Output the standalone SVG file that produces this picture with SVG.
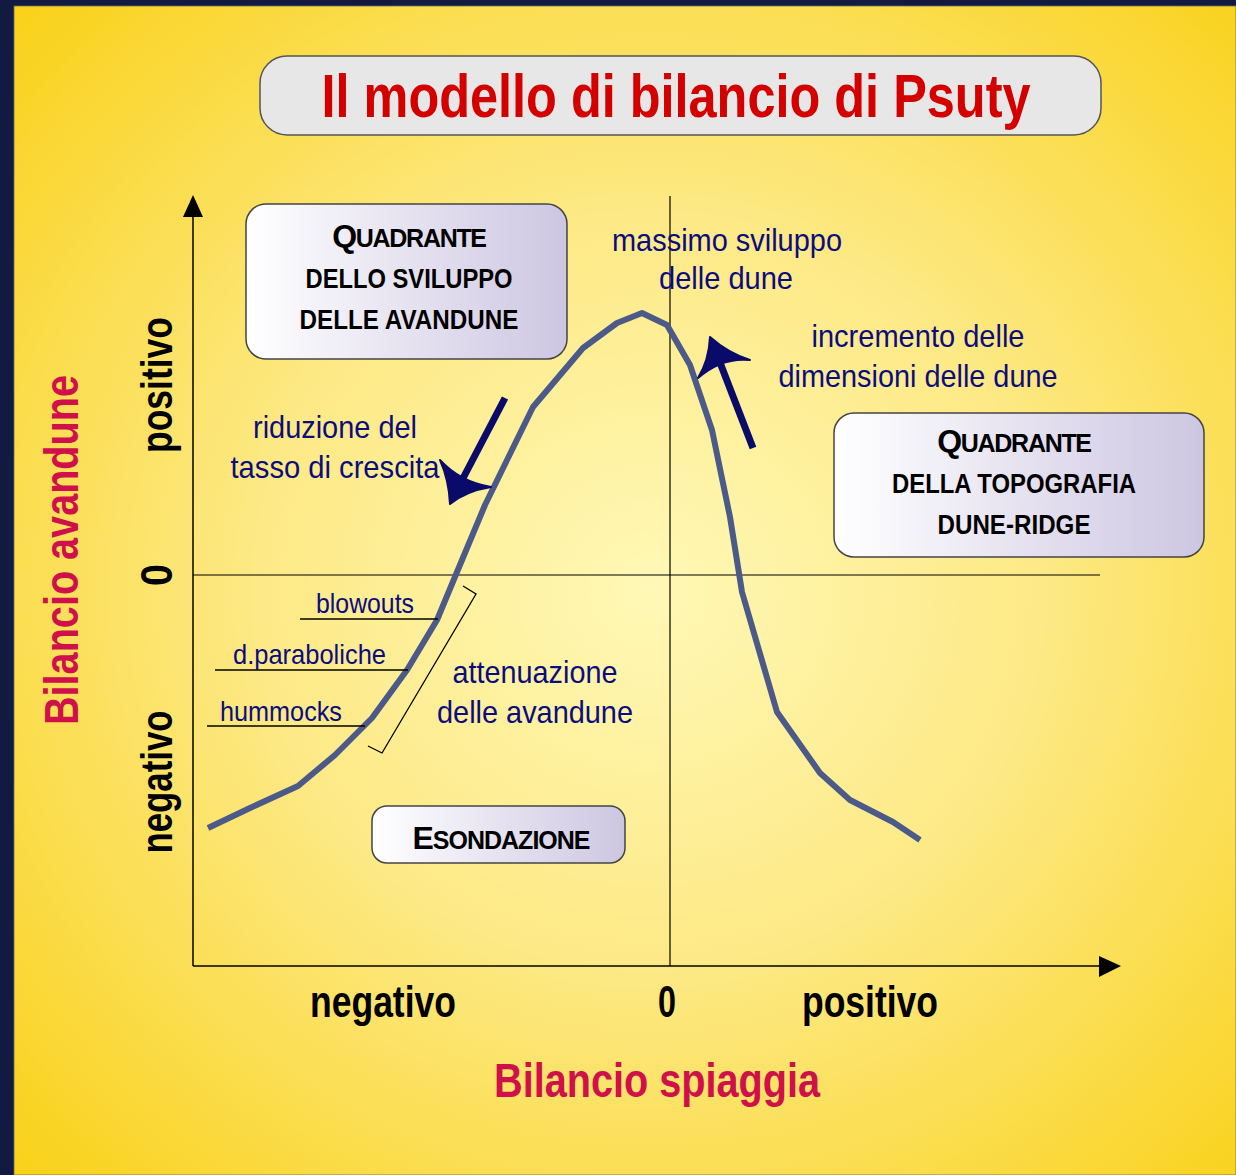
<svg xmlns="http://www.w3.org/2000/svg" width="1236" height="1175" viewBox="0 0 1236 1175">
<defs>
<radialGradient id="bg" cx="0.52" cy="0.5" r="0.72">
<stop offset="0" stop-color="#fff8b6"/>
<stop offset="0.45" stop-color="#fde985"/>
<stop offset="1" stop-color="#f9d118"/>
</radialGradient>
<linearGradient id="boxg" x1="0" y1="0" x2="1" y2="0">
<stop offset="0" stop-color="#ffffff"/>
<stop offset="1" stop-color="#cdc6e2"/>
</linearGradient>
</defs>
<style>
.nar{font-family:"Liberation Sans Narrow","Liberation Sans",Arial,sans-serif}
.blue{fill:#0c0c80;font-size:32px}
.lbl{fill:#0c0c80;font-size:28px}
.box{fill:url(#boxg);stroke:#444;stroke-width:1.5}
.bt{fill:#000;font-size:27px;font-weight:bold}
.sc{fill:#000;font-size:25px;font-weight:bold;letter-spacing:-1.3px}
.ax{fill:#000;font-size:44px;font-weight:bold}
.red{fill:#d0104a;font-size:48px;font-weight:bold}
.thin{stroke:#000;stroke-width:1.3;fill:none}
</style>
<rect x="0" y="0" width="1236" height="1175" fill="#121a42"/>
<rect x="14" y="6" width="1222" height="1169" fill="url(#bg)" stroke="#6a6a5a" stroke-width="0.8"/>

<g id="title">
<rect x="260" y="56" width="841" height="79" rx="27" fill="#e7e7e7" stroke="#555" stroke-width="1.5"/>
<text class="nar" x="676" y="117" text-anchor="middle" font-size="62" font-weight="bold" fill="#d40000" textLength="709" lengthAdjust="spacingAndGlyphs">Il modello di bilancio di Psuty</text>
</g>

<g id="axes">
<line x1="193" y1="966" x2="193" y2="215" stroke="#000" stroke-width="1.5"/>
<polygon points="193,195 183,217 203,217" fill="#000"/>
<line x1="193" y1="966" x2="1100" y2="966" stroke="#000" stroke-width="1.5"/>
<polygon points="1121,966 1099,956 1099,977" fill="#000"/>
<line x1="193" y1="575" x2="1100" y2="575" stroke="#000" stroke-width="1.2"/>
<line x1="670" y1="196" x2="670" y2="966" stroke="#000" stroke-width="1.2"/>
</g>

<g id="axis-labels">
<text class="nar red" transform="translate(78,550) rotate(-90)" text-anchor="middle" textLength="350" lengthAdjust="spacingAndGlyphs">Bilancio avandune</text>
<text class="nar ax" transform="translate(172,385) rotate(-90)" text-anchor="middle" textLength="136" lengthAdjust="spacingAndGlyphs">positivo</text>
<text class="nar ax" transform="translate(172,575) rotate(-90)" text-anchor="middle" textLength="22" lengthAdjust="spacingAndGlyphs">0</text>
<text class="nar ax" transform="translate(172,782) rotate(-90)" text-anchor="middle" textLength="143" lengthAdjust="spacingAndGlyphs">negativo</text>
<text class="nar ax" x="383" y="1017" text-anchor="middle" textLength="146" lengthAdjust="spacingAndGlyphs">negativo</text>
<text class="nar ax" x="667" y="1017" text-anchor="middle" textLength="18" lengthAdjust="spacingAndGlyphs">0</text>
<text class="nar ax" x="870" y="1017" text-anchor="middle" textLength="136" lengthAdjust="spacingAndGlyphs">positivo</text>
<text class="nar red" x="657" y="1097" text-anchor="middle" textLength="326" lengthAdjust="spacingAndGlyphs">Bilancio spiaggia</text>
</g>

<g id="connectors">
<polyline id="curve" points="208,828 250,808 298,786 335,755 372,718 407,670 437,620 457,572 485,505 533,407 583,348 617,323 642,313 667,325 690,365 712,430 730,517 742,592 777,712 820,773 850,800 893,822 920,840" fill="none" stroke="#4c5a8a" stroke-width="6" stroke-linejoin="round"/>
<line x1="300" y1="619" x2="438" y2="619" class="thin"/>
<line x1="215" y1="670" x2="408" y2="670" class="thin"/>
<line x1="207" y1="726" x2="365" y2="726" class="thin"/>
<polyline points="463,586 476,594 382,753 368,746" class="thin"/>
<line x1="505" y1="398" x2="460" y2="484" stroke="#0a0a6a" stroke-width="7"/>
<path d="M450,504 Q449,480 440,460 Q460,482 491,487 Q466,491 450,504 Z" fill="#0a0a6a" stroke="#0a0a6a" stroke-width="2" stroke-linejoin="round"/>
<line x1="753" y1="448" x2="719" y2="360" stroke="#0a0a6a" stroke-width="7"/>
<path d="M710,337 Q728,353 750,360 Q722,357 698,378 Q709,360 710,337 Z" fill="#0a0a6a" stroke="#0a0a6a" stroke-width="2" stroke-linejoin="round"/>
</g>

<g id="q1">
<rect class="box" x="246" y="204" width="321" height="155" rx="20"/>
<text class="nar sc" x="409" y="247" text-anchor="middle"><tspan font-size="32">Q</tspan>UADRANTE</text>
<text class="nar bt" x="409" y="288" text-anchor="middle" textLength="207" lengthAdjust="spacingAndGlyphs">DELLO SVILUPPO</text>
<text class="nar bt" x="409" y="329" text-anchor="middle" textLength="219" lengthAdjust="spacingAndGlyphs">DELLE AVANDUNE</text>
</g>

<g id="q2">
<rect class="box" x="834" y="413" width="370" height="144" rx="20"/>
<text class="nar sc" x="1014" y="452" text-anchor="middle"><tspan font-size="32">Q</tspan>UADRANTE</text>
<text class="nar bt" x="1014" y="493" text-anchor="middle" textLength="244" lengthAdjust="spacingAndGlyphs">DELLA TOPOGRAFIA</text>
<text class="nar bt" x="1014" y="534" text-anchor="middle" textLength="153" lengthAdjust="spacingAndGlyphs">DUNE-RIDGE</text>
</g>

<g id="esondazione">
<rect class="box" x="372" y="806" width="253" height="57" rx="15"/>
<text class="nar sc" x="501" y="849" text-anchor="middle" style="letter-spacing:-1px"><tspan font-size="32">E</tspan>SONDAZIONE</text>
</g>

<g id="labels">
<text class="nar blue" x="727" y="251" text-anchor="middle" textLength="230" lengthAdjust="spacingAndGlyphs">massimo sviluppo</text>
<text class="nar blue" x="726" y="289" text-anchor="middle" textLength="134" lengthAdjust="spacingAndGlyphs">delle dune</text>
<text class="nar blue" x="918" y="347" text-anchor="middle" textLength="213" lengthAdjust="spacingAndGlyphs">incremento delle</text>
<text class="nar blue" x="918" y="387" text-anchor="middle" textLength="279" lengthAdjust="spacingAndGlyphs">dimensioni delle dune</text>
<text class="nar blue" x="335" y="438" text-anchor="middle" textLength="164" lengthAdjust="spacingAndGlyphs">riduzione del</text>
<text class="nar blue" x="335" y="478" text-anchor="middle" textLength="209" lengthAdjust="spacingAndGlyphs">tasso di crescita</text>
<text class="nar blue" x="535" y="683" text-anchor="middle" textLength="165" lengthAdjust="spacingAndGlyphs">attenuazione</text>
<text class="nar blue" x="535" y="723" text-anchor="middle" textLength="196" lengthAdjust="spacingAndGlyphs">delle avandune</text>
<text class="nar lbl" x="316" y="613" textLength="98" lengthAdjust="spacingAndGlyphs">blowouts</text>
<text class="nar lbl" x="233" y="664" textLength="153" lengthAdjust="spacingAndGlyphs">d.paraboliche</text>
<text class="nar lbl" x="220" y="721" textLength="122" lengthAdjust="spacingAndGlyphs">hummocks</text>
</g>
</svg>
